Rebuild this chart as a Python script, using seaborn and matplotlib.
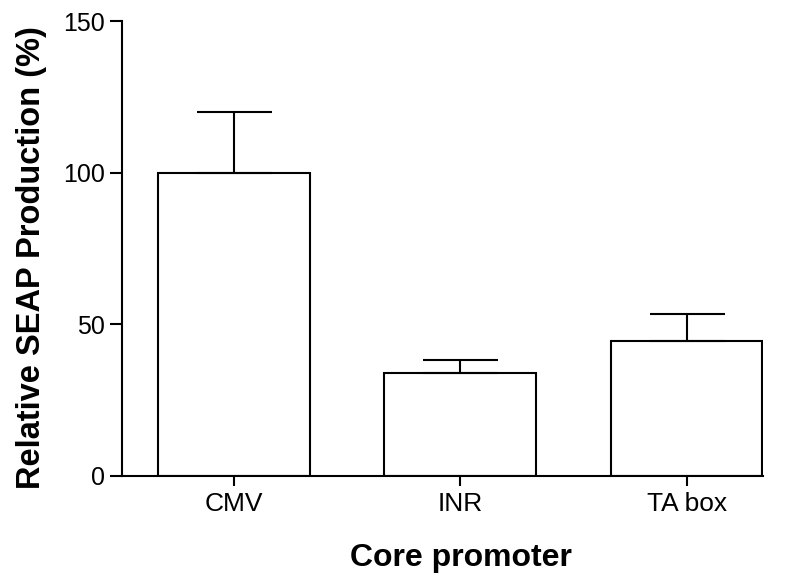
import matplotlib
matplotlib.use("Agg")
import matplotlib.pyplot as plt
import seaborn as sns
import pandas as pd

categories = ["CMV", "INR", "TA box"]
values = [100.0, 33.8, 44.3]
errors = [19.9, 4.4, 8.9]

sns.set_theme(style="ticks")
plt.rcParams['font.family'] = ['Liberation Sans', 'DejaVu Sans']
plt.rcParams['text.color'] = 'black'
plt.rcParams['axes.labelcolor'] = 'black'

df = pd.DataFrame({"promoter": categories, "value": values})

fig = plt.figure(figsize=(7.92, 5.76), dpi=100)
ax = fig.add_axes([0.154, 0.174, 0.809, 0.7895])

sns.barplot(data=df, x="promoter", y="value", color="white", edgecolor="black",
            linewidth=1.5, width=0.67, errorbar=None, ax=ax, saturation=1)
ax.errorbar(range(len(categories)), values, yerr=[[0]*len(errors), errors],
            fmt="none", ecolor="black", elinewidth=1.5, capsize=27, capthick=1.5, zorder=1)

ax.set_ylim(0, 150)
ax.set_xlim(-0.494, 2.336)
ax.set_yticks([0, 50, 100, 150])
ax.tick_params(axis="x", length=7, width=1.5, labelsize=19, colors="black", pad=5)
ax.tick_params(axis="y", length=8.5, width=1.5, labelsize=18, colors="black", pad=4)
for s in ["left", "bottom"]:
    ax.spines[s].set_linewidth(1.5)
    ax.spines[s].set_color("black")
ax.spines["top"].set_visible(False)
ax.spines["right"].set_visible(False)

ax.set_xlabel("Core promoter", fontsize=23, fontweight="bold")
ax.set_ylabel("Relative SEAP Production (%)", fontsize=23.5, fontweight="bold")
ax.xaxis.set_label_coords(0.529, -0.147)
ax.yaxis.set_label_coords(-0.117, 0.479)

fig.savefig("out.png", dpi=100, facecolor="white")
